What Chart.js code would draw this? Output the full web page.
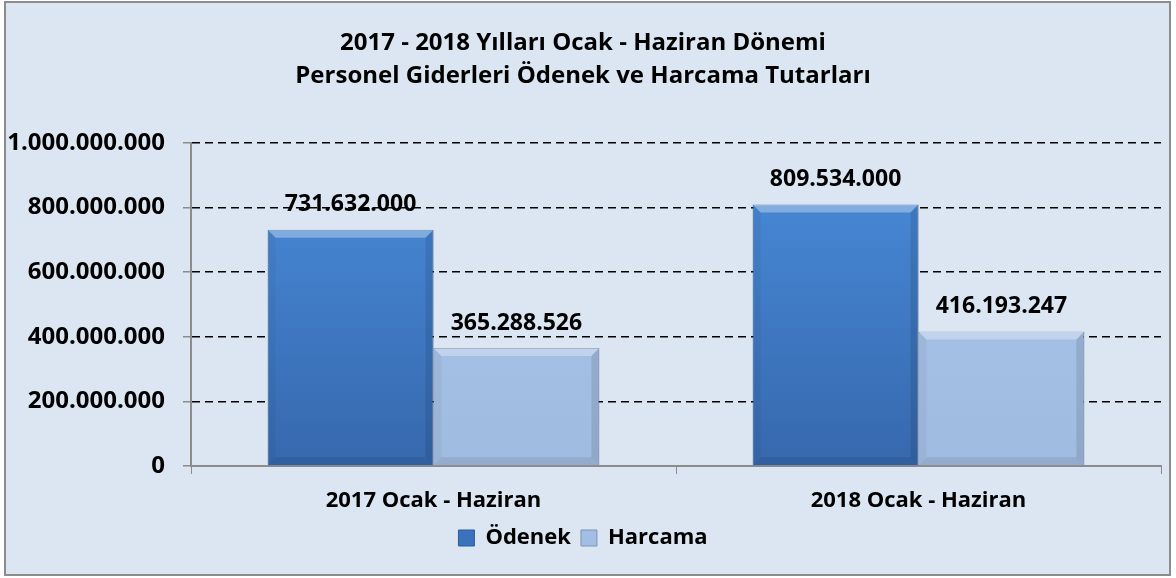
<!DOCTYPE html>
<html>
<head>
<meta charset="utf-8">
<script src="https://cdn.jsdelivr.net/npm/chart.js@4.4.0/dist/chart.umd.min.js"></script>
<style>
  html, body { margin: 0; padding: 0; background: #fff; }
  #wrap { width: 1176px; height: 578px; }
</style>
</head>
<body>
<div id="wrap"><canvas id="chart" width="1176" height="578"></canvas></div>
<script>
// data
const periods = ["2017 Ocak - Haziran", "2018 Ocak - Haziran"];
const odenek = [731632000, 809534000];
const harcama = [365288526, 416193247];
const titleLines = ["2017 - 2018 Yılları Ocak - Haziran Dönemi", "Personel Giderleri Ödenek ve Harcama Tutarları"];

const FONT = "'Open Sans', 'DejaVu Sans', sans-serif";

function fmt(v) {
  return String(Math.round(v)).replace(/\B(?=(\d{3})+(?!\d))/g, ".");
}

function blueFill(c) {
  const a = c.chart.chartArea;
  if (!a) return "#3f7dcb";
  const g = c.chart.ctx.createLinearGradient(0, a.top, 0, a.bottom);
  g.addColorStop(0, "#4a8ddc");
  g.addColorStop(1, "#3668ad");
  return g;
}

function lightFill(c) {
  const a = c.chart.chartArea;
  if (!a) return "#a3bee4";
  const g = c.chart.ctx.createLinearGradient(0, a.top, 0, a.bottom);
  g.addColorStop(0, "#abc6eb");
  g.addColorStop(1, "#a0bbe0");
  return g;
}

// background + frame
const framePlugin = {
  id: "frame",
  beforeDraw(chart) {
    const ctx = chart.ctx;
    ctx.save();
    ctx.fillStyle = "#dce6f2";
    ctx.fillRect(5, 2, 1165, 573);
    ctx.strokeStyle = "#8c8c8c";
    ctx.lineWidth = 2;
    ctx.strokeRect(5, 2, 1165, 573);
    ctx.restore();
  }
};

// bevel look on the bars + value labels
const barExtras = {
  id: "barExtras",
  afterDatasetsDraw(chart) {
    const ctx = chart.ctx;
    chart.data.datasets.forEach((ds, i) => {
      chart.getDatasetMeta(i).data.forEach((el, j) => {
        const p = el.getProps(["x", "y", "base", "width"], true);
        const x0 = p.x - p.width / 2, x1 = p.x + p.width / 2;
        const t = p.y, b = p.base, bv = 8;
        ctx.save();
        ctx.fillStyle = "rgba(255,255,255,0.32)";
        ctx.beginPath();
        ctx.moveTo(x0, t); ctx.lineTo(x1, t); ctx.lineTo(x1 - bv, t + bv); ctx.lineTo(x0 + bv, t + bv);
        ctx.closePath(); ctx.fill();
        ctx.fillStyle = "rgba(0,0,0,0.04)";
        ctx.beginPath();
        ctx.moveTo(x0, t); ctx.lineTo(x0 + bv, t + bv); ctx.lineTo(x0 + bv, b - bv); ctx.lineTo(x0, b);
        ctx.closePath(); ctx.fill();
        ctx.fillStyle = "rgba(0,0,0,0.10)";
        ctx.beginPath();
        ctx.moveTo(x1, t); ctx.lineTo(x1 - bv, t + bv); ctx.lineTo(x1 - bv, b - bv); ctx.lineTo(x1, b);
        ctx.closePath(); ctx.fill();
        ctx.fillStyle = "rgba(0,0,0,0.08)";
        ctx.beginPath();
        ctx.moveTo(x0, b); ctx.lineTo(x0 + bv, b - bv); ctx.lineTo(x1 - bv, b - bv); ctx.lineTo(x1, b);
        ctx.closePath(); ctx.fill();

        ctx.fillStyle = "#000";
        ctx.font = "bold 23px " + FONT;
        ctx.textAlign = "center";
        ctx.textBaseline = "middle";
        ctx.fillText(fmt(ds.data[j]), p.x, t - 25);
        ctx.restore();
      });
    });
  }
};

const chart = new Chart(document.getElementById("chart"), {
  type: "bar",
  data: {
    labels: periods,
    datasets: [
      { label: "Ödenek", data: odenek, backgroundColor: blueFill, borderColor: "#2f5b96", borderWidth: 1,
        categoryPercentage: 0.684, barPercentage: 1.0 },
      { label: "Harcama", data: harcama, backgroundColor: lightFill, borderColor: "#7c93b4", borderWidth: 1,
        categoryPercentage: 0.684, barPercentage: 1.0 }
    ]
  },
  options: {
    responsive: false,
    devicePixelRatio: 1,
    animation: false,
    layout: { padding: { left: 5, right: 15, top: 4, bottom: 19 } },
    plugins: {
      tooltip: { enabled: false },
      title: {
        display: true,
        text: titleLines,
        color: "#000",
        font: { family: FONT, size: 24, weight: "bold", lineHeight: 1.375 },
        padding: { top: 23, bottom: 50 }
      },
      legend: {
        position: "bottom",
        labels: {
          color: "#000",
          font: { family: FONT, size: 22, weight: "bold" },
          boxWidth: 16,
          boxHeight: 16,
          padding: 10,
          generateLabels() {
            return [
              { text: "Ödenek", fillStyle: "#3a72bd", strokeStyle: "#2f5b96", lineWidth: 1, datasetIndex: 0 },
              { text: "Harcama", fillStyle: "#a3bee4", strokeStyle: "#7c93b4", lineWidth: 1, datasetIndex: 1 }
            ];
          }
        }
      }
    },
    scales: {
      x: {
        afterFit(s) { s.height = 51; },
        grid: { display: true, drawOnChartArea: false, color: "#8c8c8c", tickLength: 8 },
        border: { color: "#8c8c8c", width: 2 },
        ticks: { color: "#000", font: { family: FONT, size: 22, weight: "bold" }, padding: 14 }
      },
      y: {
        min: 0,
        max: 1000000000,
        afterFit(s) { s.width = 186; },
        grid: {
          color: c => (c.tick && c.tick.value === 0 ? "rgba(0,0,0,0)" : "#000"),
          lineWidth: 1.5,
          tickColor: "#8c8c8c",
          tickLength: 8
        },
        border: { color: "#8c8c8c", width: 2, dash: [8, 5] },
        ticks: {
          stepSize: 200000000,
          color: "#000",
          padding: 18,
          font: { family: FONT, size: 24, weight: "bold" },
          callback: v => fmt(v)
        }
      }
    }
  },
  plugins: [framePlugin, barExtras]
});
</script>
</body>
</html>
